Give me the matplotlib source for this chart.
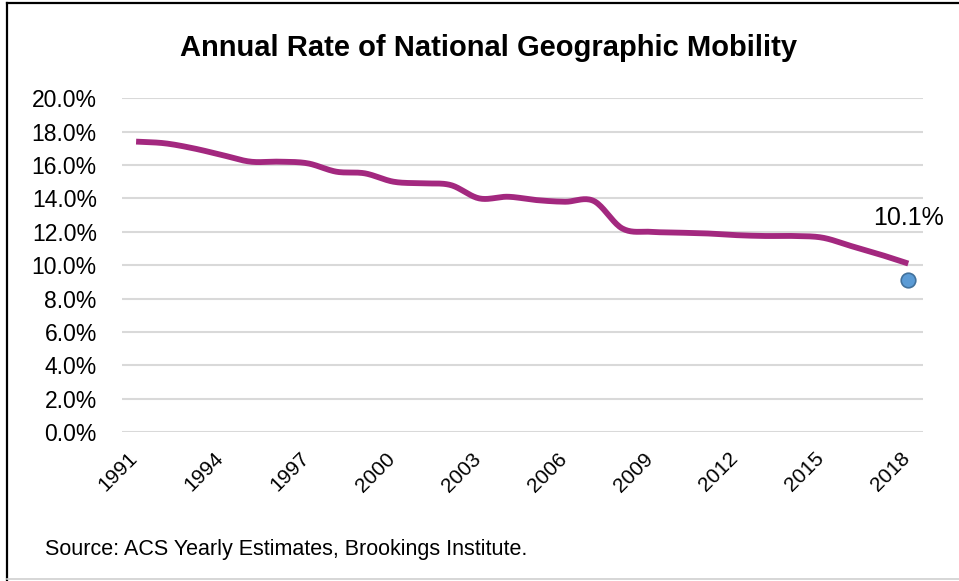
import matplotlib
matplotlib.use("Agg")
import matplotlib.pyplot as plt
import numpy as np
from matplotlib.lines import Line2D
from matplotlib.ticker import FuncFormatter, MultipleLocator
from matplotlib.transforms import ScaledTranslation

years = list(range(1991, 2019))
rates = [17.4, 17.3, 17.0, 16.6, 16.2, 16.2, 16.1, 15.6, 15.5, 15.0,
         14.9, 14.8, 14.0, 14.1, 13.9, 13.8, 13.85, 12.2, 12.0, 11.95,
         11.9, 11.8, 11.75, 11.75, 11.65, 11.15, 10.65, 10.1]
marker_year = 2018
marker_value = 9.1
label_text = "10.1%"
tick_years = [1991, 1994, 1997, 2000, 2003, 2006, 2009, 2012, 2015, 2018]
title = "Annual Rate of National Geographic Mobility"
source = "Source: ACS Yearly Estimates, Brookings Institute."

plt.rcParams['font.family'] = ['Liberation Sans', 'DejaVu Sans']


def catmull(x, y, n=20):
    x = np.asarray(x, float); y = np.asarray(y, float)
    px = np.concatenate([[2*x[0]-x[1]], x, [2*x[-1]-x[-2]]])
    py = np.concatenate([[2*y[0]-y[1]], y, [2*y[-1]-y[-2]]])
    ox, oy = [], []
    t = np.linspace(0, 1, n, endpoint=False)
    for i in range(1, len(px)-2):
        for arr, out in ((px, ox), (py, oy)):
            p0, p1, p2, p3 = arr[i-1], arr[i], arr[i+1], arr[i+2]
            out.extend(0.5*((2*p1) + (-p0+p2)*t + (2*p0-5*p1+4*p2-p3)*t**2 + (-p0+3*p1-3*p2+p3)*t**3))
    ox.append(x[-1]); oy.append(y[-1])
    return np.array(ox), np.array(oy)


fig = plt.figure(figsize=(9.59, 5.81), dpi=100)
ax = fig.add_axes([0.127, 0.256, 0.835, 0.575])

sx, sy = catmull(years, rates)
ax.plot(sx, sy, color='#A3287F', lw=4.2, solid_capstyle='butt', zorder=3)
ax.scatter([marker_year], [marker_value], s=110, color='#5B9BD5', edgecolor='#41719C',
           linewidth=1.2, zorder=4)
ax.text(marker_year, rates[-1] + 2.75, label_text, fontsize=18, ha='center', va='center')

ax.set_xlim(1990.5, 2018.5)
ax.set_ylim(0, 20)
ax.yaxis.set_major_locator(MultipleLocator(2))
ax.yaxis.set_major_formatter(FuncFormatter(lambda v, p: f"{v:.1f}%"))
ax.grid(axis='y', color='#D9D9D9', lw=1.5)
ax.set_axisbelow(True)
for s in ax.spines.values():
    s.set_visible(False)
ax.tick_params(axis='both', length=0)
ax.tick_params(axis='y', pad=18, labelsize=16.5)
ax.set_xticks(tick_years)
ax.set_xticklabels([str(y) for y in tick_years], rotation=45, ha='right',
                   rotation_mode='anchor', fontsize=15)
ax.tick_params(axis='x', pad=12)
off = ScaledTranslation(-8/100, 0, fig.dpi_scale_trans)
for lab in ax.get_xticklabels():
    lab.set_transform(lab.get_transform() + off)

fig.text(0.509, 0.918, title, fontsize=21, fontweight='bold',
         ha='center', va='center')
fig.text(0.047, 0.054, source, fontsize=15.5, ha='left', va='center')

# frame: black top/left, light grey bottom
fig.lines.append(Line2D([0.007, 0.007], [0.0, 0.995], transform=fig.transFigure,
                        color='black', lw=1.6))
fig.lines.append(Line2D([0.007, 1.0], [0.995, 0.995], transform=fig.transFigure,
                        color='black', lw=1.6))
fig.lines.append(Line2D([0.007, 1.0], [0.003, 0.003], transform=fig.transFigure,
                        color='#D0D0D0', lw=1.2))

fig.savefig("out.png", dpi=100)
